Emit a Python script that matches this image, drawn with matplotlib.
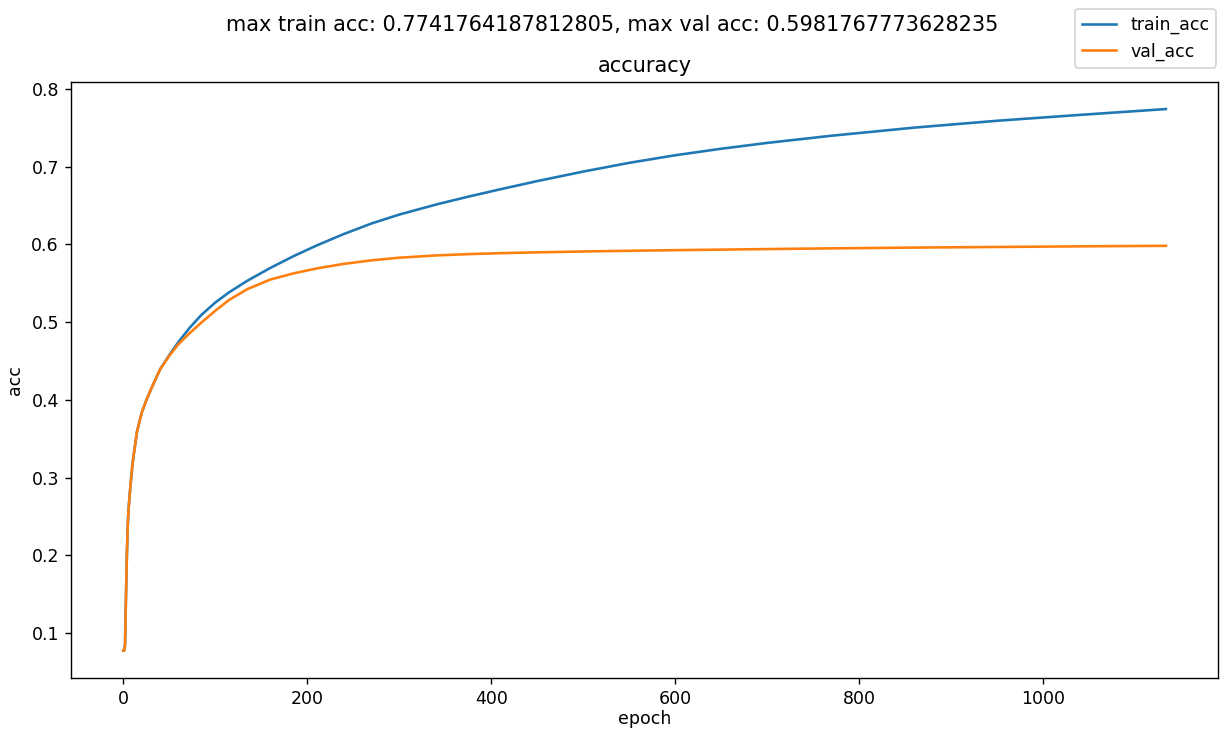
import matplotlib
matplotlib.use("Agg")
import matplotlib.pyplot as plt

epochs = [0, 1, 2, 3, 4, 5, 6, 8, 10, 12, 15, 20, 25, 30, 40, 50, 60, 72, 85,
          100, 115, 135, 160, 185, 210, 240, 270, 300, 340, 375, 410, 450, 500,
          550, 600, 650, 700, 770, 860, 950, 1040, 1133]

train_acc = [0.0772, 0.0772, 0.085, 0.145, 0.200, 0.240, 0.262, 0.291, 0.316,
             0.334, 0.359, 0.383, 0.399, 0.413, 0.439, 0.4574, 0.4744, 0.4924,
             0.5093, 0.5251, 0.5383, 0.5533, 0.5698, 0.5848, 0.5985, 0.6135,
             0.6270, 0.6384, 0.6513, 0.66145, 0.6710, 0.6815, 0.69375, 0.7050,
             0.71475, 0.72315, 0.73065, 0.73989, 0.75033, 0.75915, 0.76671,
             0.7741764187812805]

val_acc = [0.0772, 0.0772, 0.083, 0.145, 0.200, 0.240, 0.262, 0.291, 0.316,
           0.334, 0.359, 0.383, 0.399, 0.413, 0.439, 0.4565, 0.4715, 0.4855,
           0.4995, 0.5145, 0.5285, 0.5425, 0.5548, 0.5627, 0.5690, 0.5750,
           0.5795, 0.5829, 0.5858, 0.5875, 0.5887, 0.5898, 0.5909, 0.5918,
           0.5926, 0.5933, 0.5940, 0.5949, 0.5959, 0.5967, 0.5975,
           0.5981767773628235]

fig = plt.figure(figsize=(9.8, 5.84), dpi=125)
ax = fig.add_axes([0.058, 0.0716, 0.9363, 0.8161])
ax.plot(epochs, train_acc, label="train_acc")
ax.plot(epochs, val_acc, label="val_acc")
ax.set_title("accuracy")
ax.set_xlabel("epoch", labelpad=1.5)
ax.set_ylabel("acc")
fig.suptitle("max train acc: 0.7741764187812805, max val acc: 0.5981767773628235")
fig.legend(loc="upper right")
fig.savefig("out.png", dpi=125)
